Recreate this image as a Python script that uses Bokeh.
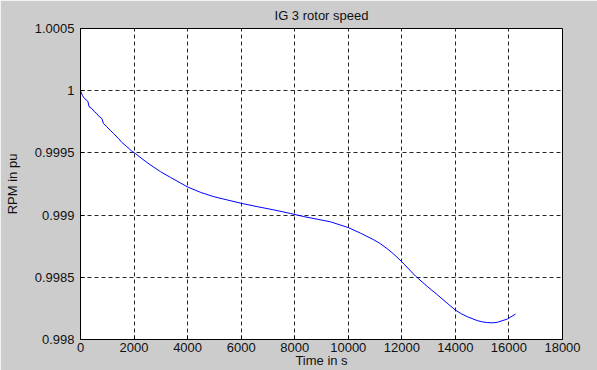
from bokeh.plotting import figure
from bokeh.models import FixedTicker, CustomJSTickFormatter, Range1d
from bokeh.embed import file_html
from bokeh.resources import INLINE

# ---- data ----
time_s = [0, 75, 150, 274, 324, 423, 523, 610, 672, 797, 859, 984, 1108, 1232,
          1419, 1544, 1731, 1917, 2042, 2415, 2600, 2988, 3361, 3734, 4000,
          4481, 4979, 5477, 6001, 6598, 7218, 7842, 8340, 8838, 9336, 9996,
          10456, 10954, 11200, 11452, 11700, 11999, 12510, 12946, 13320, 13693,
          14004, 14220, 14440, 14814, 15000, 15188, 15400, 15561, 15935, 16245]
rpm_pu = [1.00000, 0.99996, 0.999937, 0.999915, 0.99987, 0.999857, 0.99983,
          0.999816, 0.999797, 0.999776, 0.999736, 0.999709, 0.999683, 0.999656,
          0.999616, 0.999584, 0.99955, 0.999514, 0.999496, 0.999434, 0.999405,
          0.999349, 0.999303, 0.999258, 0.999226, 0.999183, 0.999148, 0.999122,
          0.999095, 0.999068, 0.999042, 0.999013, 0.998988, 0.998967, 0.998946,
          0.998900, 0.998855, 0.998801, 0.998770, 0.998730, 0.998686, 0.998625,
          0.998510, 0.998427, 0.998361, 0.998292, 0.998236, 0.998207, 0.998184,
          0.998152, 0.998142, 0.998136, 0.998134, 0.998138, 0.998164, 0.998204]

x_ticks = [0, 2000, 4000, 6000, 8000, 10000, 12000, 14000, 16000, 18000]
y_ticks = [0.998, 0.9985, 0.999, 0.9995, 1.0, 1.0005]
y_tick_labels = ["0.998", "0.9985", "0.999", "0.9995", "1", "1.0005"]

title_text = "IG 3 rotor speed"
x_label = "Time in s"
y_label = "RPM in pu"

FONT = "Liberation Sans"
GRAY = "#cccccc"
TXT = "#111111"

p = figure(width=597, height=370, output_backend="svg", toolbar_location=None,
           x_range=Range1d(0, 18000), y_range=Range1d(0.998, 1.0005),
           title=title_text)

# frame: x 80..562, y 28..340
p.min_border_left = 80
p.min_border_right = 35
p.min_border_top = 28
p.min_border_bottom = 30

p.background_fill_color = "white"
p.border_fill_color = GRAY
p.outline_line_color = "black"
p.outline_line_width = 1

p.title.align = "center"
p.title.text_font = FONT
p.title.text_font_size = "13px"
p.title.text_font_style = "normal"
p.title.text_color = TXT
p.title.standoff = 11
p.title.offset = 6

p.line(time_s, rpm_pu, line_color="#0000ff", line_width=1)

p.xaxis.ticker = FixedTicker(ticks=x_ticks)
p.yaxis.ticker = FixedTicker(ticks=y_ticks)
p.yaxis.formatter = CustomJSTickFormatter(
    args=dict(tvals=y_ticks, tlabels=y_tick_labels),
    code="""
    let best = 0, d = Infinity;
    for (let i = 0; i < tvals.length; i++) {
        const e = Math.abs(tvals[i] - tick);
        if (e < d) { d = e; best = i; }
    }
    return tlabels[best];
    """)

for ax in (p.xaxis[0], p.yaxis[0]):
    ax.axis_line_color = "black"
    ax.major_tick_in = 4
    ax.major_tick_out = 0
    ax.minor_tick_line_color = None
    ax.major_tick_line_color = "black"
    ax.major_label_text_font = FONT
    ax.major_label_text_font_size = "13px"
    ax.major_label_text_color = TXT
    ax.axis_label_text_font = FONT
    ax.axis_label_text_font_size = "13px"
    ax.axis_label_text_font_style = "normal"
    ax.axis_label_text_color = TXT

p.xaxis.axis_label = x_label
p.yaxis.axis_label = y_label
p.xaxis.major_label_standoff = 3
p.xaxis.axis_label_standoff = -2
p.yaxis.major_label_standoff = 6
p.yaxis.axis_label_standoff = 12

p.xgrid.ticker = FixedTicker(ticks=x_ticks)
p.ygrid.ticker = FixedTicker(ticks=y_ticks)
for g in (p.xgrid[0], p.ygrid[0]):
    g.grid_line_color = "black"
    g.grid_line_alpha = 0.85
    g.grid_line_dash = "4 3"
    g.grid_line_width = 1

open("out.html", "w").write(file_html(p, INLINE))
